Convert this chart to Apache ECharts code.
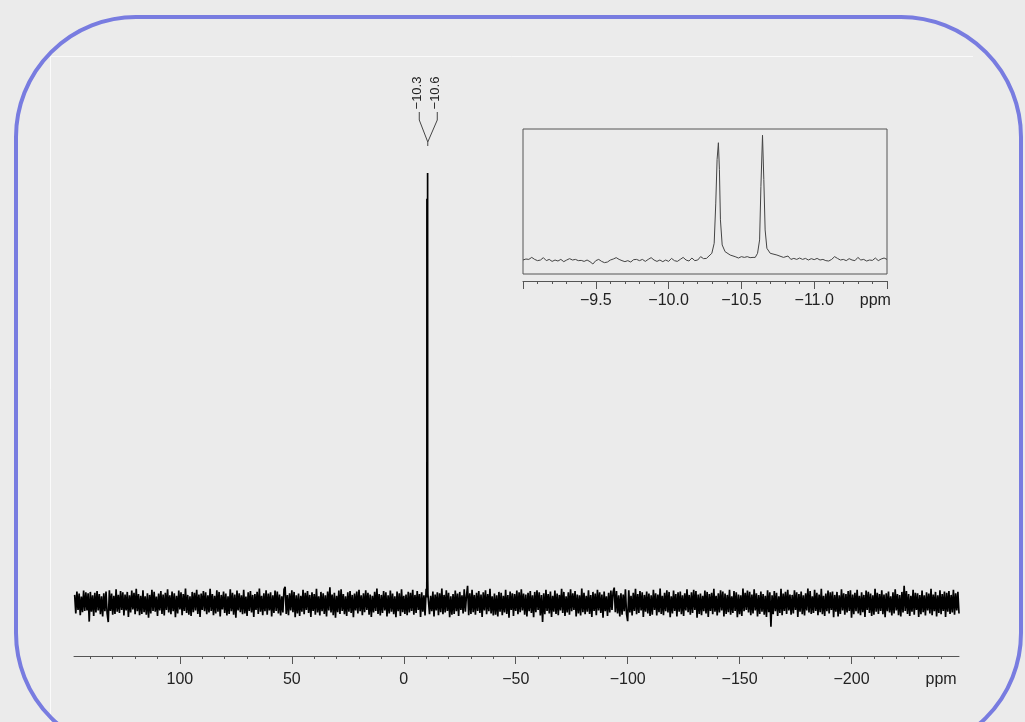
<!DOCTYPE html>
<html>
<head>
<meta charset="utf-8">
<script src="https://cdn.jsdelivr.net/npm/echarts@6/dist/echarts.min.js"></script>
<style>
  html, body { margin: 0; padding: 0; background: #ebebeb; }
  #chart { width: 1025px; height: 722px; }
</style>
</head>
<body>
<div id="chart"></div>
<script>
// ---------------- DATA ----------------
// Main spectrum: baseline noise sampled from 147 ppm downward, every 0.5 ppm (arbitrary intensity units)
const noiseStartPpm = 147;
const noiseStepPpm = 0.5;
const mainNoise = [
  19,-24,27,-16,22,-28,15,-21,29,-18,25,-17,23,-43,26,-20,18,-30,24,-22,
  28,-17,21,-26,16,-31,23,-19,27,-24,-44,30,-18,22,-27,17,-25,32,-20,19,
  -23,28,-16,25,-29,20,-17,26,-32,18,-22,29,-15,24,-26,33,-19,21,-28,17,
  -25,30,-21,16,-27,23,-34,19,-24,31,-18,26,-20,15,-30,22,-17,28,-25,20,
  -29,24,-16,32,-22,18,-26,27,-19,23,-33,17,-24,29,-15,25,-28,21,-18,34,
  -23,19,-27,16,-30,26,-21,24,-17,31,-25,20,-32,22,-16,28,-19,25,-26,18,
  -22,33,-18,21,-28,17,-24,30,-20,26,-31,19,-15,27,-23,22,-29,16,-25,32,
  -19,24,-27,20,-34,29,-17,23,-21,18,-26,31,-24,15,-30,25,-18,28,-22,19,
  -32,21,-16,26,-25,34,-20,17,-28,23,-19,30,-27,22,-17,25,-31,18,-23,29,
  -18,27,-24,20,-29,16,-22,32,38,-25,19,-28,23,-17,30,-21,26,-33,18,-24,
  22,-30,17,-20,31,-26,24,-16,28,-23,19,-32,25,-18,21,-27,33,-22,16,-29,
  26,-19,23,-25,18,-31,27,-17,37,-22,20,-28,24,-34,17,-21,29,-25,32,-18,
  21,-26,16,-30,25,-20,28,-23,19,-33,22,-17,27,-24,31,-19,18,-28,23,-21,
  30,-16,24,-27,20,-32,17,-22,26,-18,34,-25,21,-29,19,-23,28,-17,25,-31,
  18,-24,29,-20,22,-26,16,-33,27,-19,23,-30,32,-21,17,-25,20,-28,26,-22,
  24,-18,31,-27,19,-23,28,-16,21,-32,25,-20,18,-29,33,-24,22,-26,17,-19,
  27,-31,20,-17,25,-28,23,-21,34,-26,19,-22,30,-18,24,-33,16,-27,21,-25,
  29,-19,22,-30,26,-16,18,-24,32,-20,17,40,-28,23,-25,31,-21,19,-27,24,
  -18,28,-23,20,-32,25,-17,30,-26,21,-19,33,-24,16,-29,22,-27,18,-31,26,
  -20,24,-28,17,-22,31,-25,19,-34,27,-16,23,-30,21,-18,29,-26,25,-21,32,
  -17,22,-27,20,-31,24,-19,28,-23,18,-33,26,-21,30,-16,25,-29,19,-44,23,
  -26,31,-18,21,-24,27,-32,17,-20,29,-25,22,-28,19,-17,33,-23,26,-30,16,
  -22,25,-27,32,-19,23,-16,28,-31,20,-24,18,-29,34,-21,24,-26,17,-20,30,
  -25,19,-32,26,-18,22,-28,31,-17,25,-23,20,-34,27,-19,16,-30,24,-22,29,
  -16,26,36,-21,28,-24,18,-31,23,-27,20,-19,32,-25,-42,30,-22,17,-29,24,
  -18,33,-26,21,-23,28,-17,25,-32,19,-20,27,-24,22,-30,18,-27,31,-16,23,
  -29,20,-21,34,-25,17,-28,24,-19,30,-22,26,-33,16,-24,29,-18,21,-31,25,
  -20,27,-26,18,-30,23,-17,32,-21,19,-27,25,-23,31,-16,28,-34,20,-25,22,
  -28,17,-19,29,-24,26,-32,21,-18,24,-26,33,-20,17,-29,23,-22,30,-17,27,
  -31,22,-25,19,-21,31,-27,16,-23,28,-18,25,-33,20,-26,18,-30,34,-19,24,
  -16,29,-22,26,-28,20,-24,32,-17,23,-31,19,-25,27,-20,21,-27,17,-32,30,
  -21,25,-55,18,-26,28,-19,24,-30,16,-23,33,-28,22,-18,26,-25,31,-17,20,
  -27,19,-24,30,-16,25,-32,21,-20,27,-26,18,-29,23,-17,34,-22,28,-25,16,
  -23,31,-18,24,-28,20,-21,33,-26,17,-30,22,-19,29,-24,25,-16,27,-33,19,
  -20,26,-31,18,-25,32,-17,23,-27,21,-22,28,-18,30,-34,20,-26,24,-19,31,
  -24,17,-28,25,-21,19,-32,29,-16,26,-23,22,-30,18,-27,33,-20,24,-25,21,
  -18,30,-26,20,-33,23,-19,27,-22,16,-29,25,-24,32,-17,21,-28,19,-31,26,
  -22,40,-18,28,-25,21,-30,17,-20,31,-27,24,-16,23,-32,19,-26,29,-21,18,
  -29,25,-17,22,-24,33,-28,20,-19,26,-31,18,-23,30,-26,21,-18,27,-32,24,
  -20,28,-25,19,-22,31,-27,23,-17,26,-24
];

// The two resonances (ppm, intensity)
const peak1Ppm = [-10.262,-10.297,-10.313,-10.324,-10.333,-10.342,-10.349,-10.356,-10.368,-10.388,-10.423,-10.457];
const peak1Int = [13,54,134,456,805,940,724,322,121,67,40,27];
const peak2Ppm = [-10.595,-10.611,-10.625,-10.634,-10.645,-10.654,-10.663,-10.675,-10.698,-10.744,-10.789];
const peak2Int = [21,54,161,590,1000,644,241,94,54,40,21];
const peakWindow = [-10.2, -10.8];

// Inset baseline from -9.00 ppm downward every 0.02 ppm (null = covered by peak points)
const insetStartPpm = -9.0;
const insetStepPpm = 0.02;
const insetBaseline = [
  0,8,5,21,5,-5,0,19,-5,5,-11,0,-8,5,-13,0,11,0,5,-5,
  -3,-11,0,-13,-32,-5,5,-11,-21,-16,0,8,19,5,-5,-13,-5,-16,3,5,
  -5,5,-11,5,19,0,-11,0,-13,0,-11,13,-5,-11,5,21,0,-8,16,-5,
  0,27,11,13,null,null,null,null,null,null,null,null,null,27,16,27,21,27,19,21,
  null,null,null,null,null,null,null,null,null,null,11,32,5,13,5,16,5,13,0,11,
  3,13,0,5,-5,-8,5,27,13,0,5,-5,11,0,-5,21,0,5,-8,0,
  -3,16,-5,8,16,5
];

// Peak labels
const peakLabels = ['-10.3', '-10.6'];

// Axis ticks / labels
const mainMajorTicks = [100, 50, 0, -50, -100, -150, -200];
const mainLabelValues = [100, 50, 0, -50, -100, -150, -200, -240];
const mainMinorTicks = [140,130,120,110,100,90,80,70,60,50,40,30,20,10,0,-10,-20,-30,-40,-50,-60,-70,-80,-90,-100,-110,-120,-130,-140,-150,-160,-170,-180,-190,-200,-210,-220,-230,-240];
const mainUnitAt = -240;
const mainRange = [-248, 147.3];

const insetMajorTicks = [-9.0, -9.5, -10.0, -10.5, -11.0, -11.5];
const insetLabelValues = [-9.5, -10.0, -10.5, -11.0, -11.42];
const insetMinorTicks = [-9.1,-9.2,-9.3,-9.4,-9.6,-9.7,-9.8,-9.9,-10.1,-10.2,-10.3,-10.4,-10.6,-10.7,-10.8,-10.9,-11.1,-11.2,-11.3,-11.4];
const insetUnitAt = -11.42;
const insetRange = [-11.5, -9.0];
const unitLabel = 'ppm';

// ---------------- BUILD ----------------
const peakPoints = peak1Ppm.map((x, i) => [x, peak1Int[i]])
  .concat(peak2Ppm.map((x, i) => [x, peak2Int[i]]));

const mainData = mainNoise
  .map((v, k) => [noiseStartPpm - noiseStepPpm * k, v])
  .filter(p => p[0] > peakWindow[0] || p[0] < peakWindow[1])
  .concat(peakPoints)
  .sort((a, b) => b[0] - a[0]);

const insetData = insetBaseline
  .map((v, i) => [+(insetStartPpm - insetStepPpm * i).toFixed(3), v])
  .filter(p => p[1] !== null)
  .concat(peakPoints)
  .sort((a, b) => b[0] - a[0]);

const annotCenter = (peak1Ppm[5] + peak2Ppm[4]) / 2;
const annotTop = Math.max(...peak1Int, ...peak2Int);

const MINUS = '\u2212';
const FONT = '"Liberation Sans", Arial, Helvetica, sans-serif';
const AX = '#555';
const TXT = '#222';

const chart = echarts.init(document.getElementById('chart'), null, { renderer: 'canvas' });

function baseX(extra) {
  return Object.assign({
    type: 'value',
    position: 'bottom',
    inverse: true,
    splitLine: { show: false },
    axisLine: { show: false, onZero: false },
    axisTick: { show: false },
    axisLabel: { show: false }
  }, extra);
}

const option = {
  backgroundColor: '#ebebeb',
  animation: false,
  grid: [
    { left: 74, right: 66, top: 173, bottom: 66 },
    { left: 523, right: 138, top: 129, bottom: 448, show: true, borderColor: '#555', borderWidth: 1, backgroundColor: 'transparent' }
  ],
  xAxis: [
    baseX({
      gridIndex: 0, min: mainRange[0], max: mainRange[1],
      axisLine: { show: true, onZero: false, lineStyle: { color: AX, width: 1 } },
      axisLabel: {
        show: true, customValues: mainLabelValues, margin: 16,
        color: TXT, fontSize: 16, fontFamily: FONT,
        formatter: v => (v === mainUnitAt ? unitLabel : String(v).replace('-', MINUS))
      }
    }),
    baseX({
      gridIndex: 0, min: mainRange[0], max: mainRange[1],
      axisTick: { show: true, length: 8, customValues: mainMajorTicks, lineStyle: { color: AX } }
    }),
    baseX({
      gridIndex: 0, min: mainRange[0], max: mainRange[1],
      axisTick: { show: true, length: 3, customValues: mainMinorTicks, lineStyle: { color: AX } }
    }),
    baseX({
      gridIndex: 1, min: insetRange[0], max: insetRange[1], offset: 7,
      axisLine: { show: true, onZero: false, lineStyle: { color: AX, width: 1 } },
      axisLabel: {
        show: true, customValues: insetLabelValues, margin: 12,
        color: TXT, fontSize: 16, fontFamily: FONT,
        formatter: v => (Math.abs(v - insetUnitAt) < 1e-6 ? unitLabel : v.toFixed(1).replace('-', MINUS))
      }
    }),
    baseX({
      gridIndex: 1, min: insetRange[0], max: insetRange[1], offset: 7,
      axisTick: { show: true, length: 8, customValues: insetMajorTicks, lineStyle: { color: AX } }
    }),
    baseX({
      gridIndex: 1, min: insetRange[0], max: insetRange[1], offset: 7,
      axisTick: { show: true, length: 3, customValues: insetMinorTicks, lineStyle: { color: AX } }
    })
  ],
  yAxis: [
    { gridIndex: 0, type: 'value', min: -123, max: 1000, show: false },
    { gridIndex: 1, type: 'value', min: -112, max: 1050, show: false }
  ],
  series: [
    {
      name: 'spectrum', type: 'line', xAxisIndex: 0, yAxisIndex: 0,
      data: mainData, showSymbol: false, symbol: 'none',
      lineStyle: { color: '#000', width: 1.7 }, silent: true, clip: true
    },
    {
      name: 'inset', type: 'line', xAxisIndex: 3, yAxisIndex: 1,
      data: insetData, showSymbol: false, symbol: 'none',
      lineStyle: { color: '#444', width: 1 }, silent: true, clip: true
    },
    {
      name: 'peak labels', type: 'custom', xAxisIndex: 0, yAxisIndex: 0, clip: false, silent: true,
      data: [[annotCenter, annotTop]],
      renderItem: function (params, api) {
        const p = api.coord([api.value(0), api.value(1)]);
        const cx = p[0] + 0.5, top = p[1];
        const lx = cx - 8.5, rx = cx + 9.5;
        const stroke = { stroke: '#444', lineWidth: 1, fill: 'none' };
        return {
          type: 'group',
          children: [
            { type: 'polyline', shape: { points: [[lx, top - 61], [lx, top - 53], [cx, top - 31], [rx, top - 53], [rx, top - 61]] }, style: stroke },
            { type: 'line', shape: { x1: cx, y1: top - 31, x2: cx, y2: top - 27 }, style: stroke },
            { type: 'text', x: lx - 2, y: top - 80, rotation: Math.PI / 2,
              style: { text: peakLabels[0].replace('-', MINUS), font: '13px ' + FONT, fill: TXT, align: 'center', verticalAlign: 'middle' } },
            { type: 'text', x: rx - 2, y: top - 80, rotation: Math.PI / 2,
              style: { text: peakLabels[1].replace('-', MINUS), font: '13px ' + FONT, fill: TXT, align: 'center', verticalAlign: 'middle' } }
          ]
        };
      }
    }
  ],
  graphic: [
    { type: 'line', silent: true, shape: { x1: 50.5, y1: 56.5, x2: 973, y2: 56.5 }, style: { stroke: '#fafafa', lineWidth: 1 } },
    { type: 'line', silent: true, shape: { x1: 50.5, y1: 56.5, x2: 50.5, y2: 722 }, style: { stroke: '#fafafa', lineWidth: 1 } },
    { type: 'rect', silent: true, shape: { x: 16, y: 17, width: 1005, height: 736, r: 120 }, style: { fill: 'none', stroke: '#787ce0', lineWidth: 4 } }
  ]
};

chart.setOption(option);
</script>
</body>
</html>
